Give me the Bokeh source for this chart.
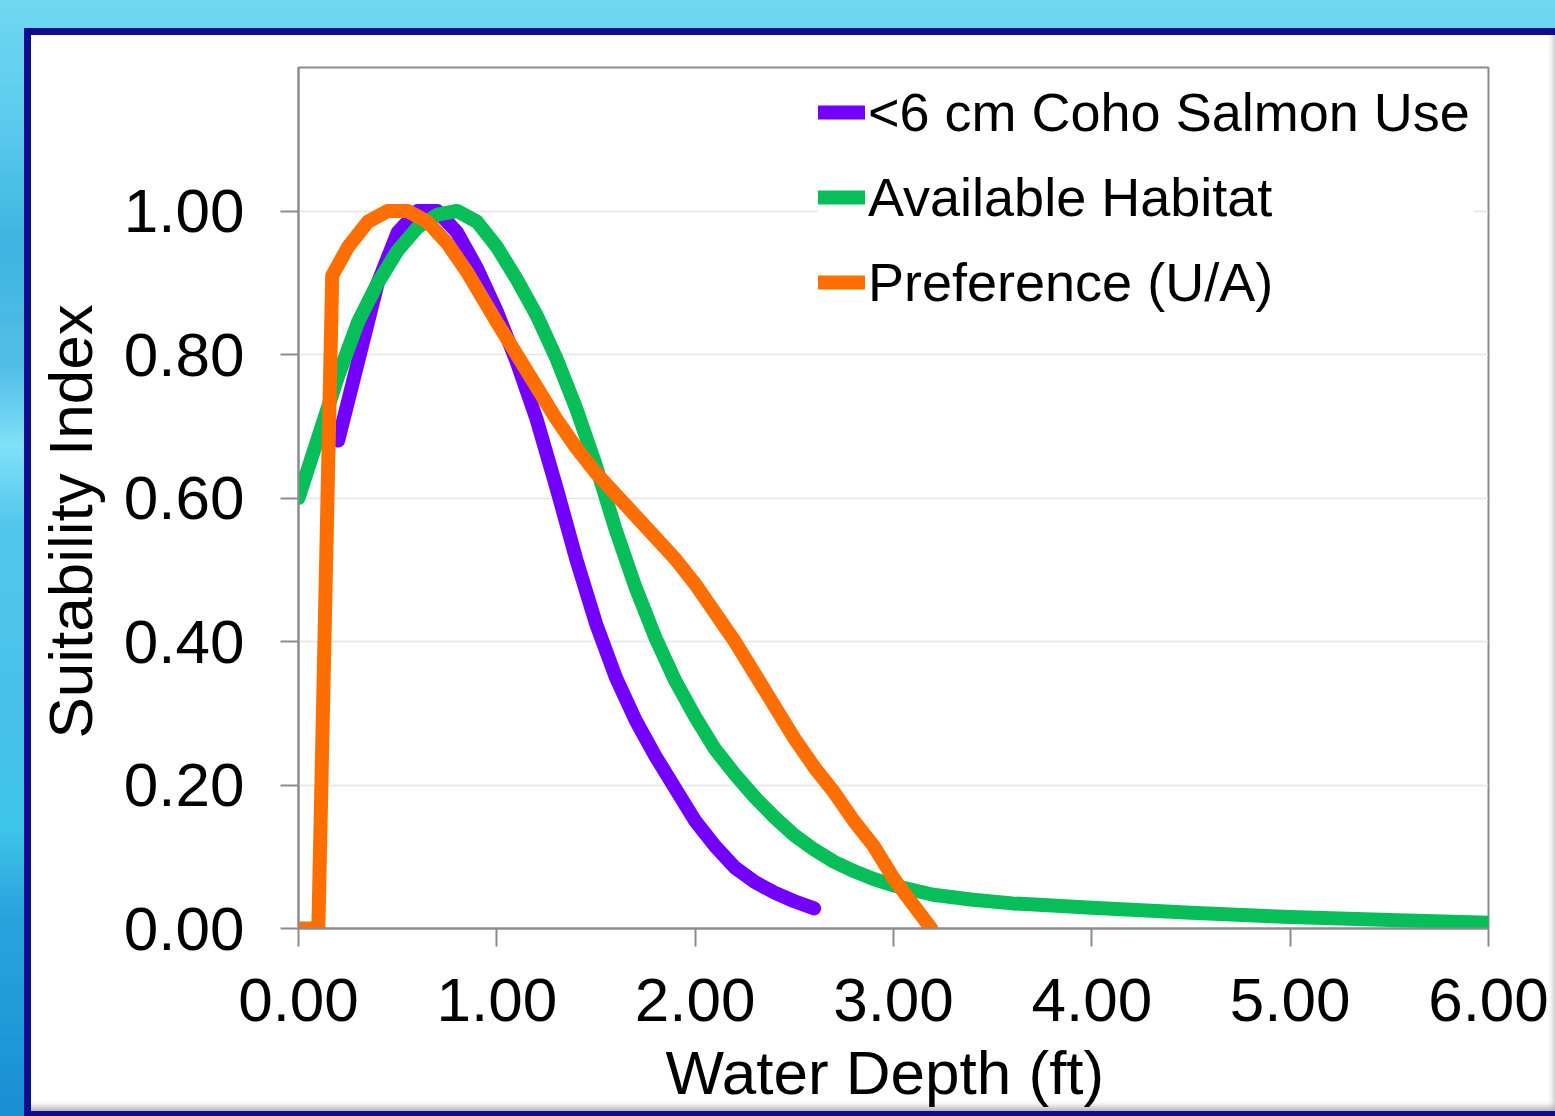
from bokeh.plotting import figure
from bokeh.layouts import column
from bokeh.models import FixedTicker, NumeralTickFormatter, Legend, LegendItem, Range1d
from bokeh.embed import file_html
from bokeh.resources import INLINE

# Water depth (ft) and suitability index for each curve
use_depth = [0.20, 0.30, 0.40, 0.50, 0.60, 0.70, 0.80, 0.90, 1.00, 1.10, 1.20, 1.30,
             1.40, 1.50, 1.60, 1.70, 1.80, 1.90, 2.00, 2.10, 2.20, 2.30, 2.40, 2.50, 2.60]
use_index = [0.68, 0.79, 0.90, 0.97, 1.00, 1.00, 0.97, 0.92, 0.86, 0.79, 0.71, 0.615,
             0.515, 0.425, 0.35, 0.29, 0.24, 0.195, 0.15, 0.115, 0.085, 0.065, 0.05, 0.038, 0.028]

avail_depth = [0.0, 0.1, 0.2, 0.3, 0.4, 0.5, 0.6, 0.7, 0.8, 0.9, 1.0, 1.1, 1.2, 1.3, 1.4,
               1.5, 1.6, 1.7, 1.8, 1.9, 2.0, 2.1, 2.2, 2.3, 2.4, 2.5, 2.6, 2.7, 2.8, 2.9,
               3.0, 3.2, 3.4, 3.6, 3.8, 4.0, 4.5, 5.0, 5.5, 6.0]
avail_index = [0.60, 0.685, 0.77, 0.845, 0.90, 0.945, 0.977, 0.995, 1.0, 0.985, 0.95, 0.905,
               0.855, 0.795, 0.725, 0.645, 0.555, 0.475, 0.405, 0.345, 0.295, 0.25, 0.215,
               0.183, 0.155, 0.13, 0.11, 0.093, 0.08, 0.069, 0.06, 0.047, 0.04, 0.035,
               0.032, 0.029, 0.022, 0.016, 0.012, 0.008]

pref_depth = [0.0, 0.10, 0.17, 0.25, 0.35, 0.45, 0.55, 0.65, 0.75, 0.85, 1.0, 1.1, 1.2,
              1.3, 1.4, 1.5, 1.6, 1.7, 1.8, 1.9, 2.0, 2.1, 2.2, 2.3, 2.4, 2.5, 2.6, 2.7,
              2.8, 2.9, 3.0, 3.1, 3.19]
pref_index = [0.0, 0.0, 0.91, 0.95, 0.985, 1.0, 1.0, 0.985, 0.955, 0.915, 0.845, 0.80,
              0.755, 0.71, 0.67, 0.635, 0.605, 0.575, 0.545, 0.515, 0.48, 0.44, 0.40,
              0.355, 0.31, 0.265, 0.225, 0.19, 0.15, 0.115, 0.07, 0.033, 0.0]

series_names = ["<6 cm Coho Salmon Use", "Available Habitat", "Preference (U/A)"]
series_colors = ["#7300ff", "#07be58", "#ff6e00"]

x_ticks = [0, 1, 2, 3, 4, 5, 6]
y_ticks = [0.0, 0.2, 0.4, 0.6, 0.8, 1.0]

FONT = "Liberation Sans"
AXIS_GRAY = "#8c8c8c"
FRAME_BLUE = "#0e0e94"
NBSP = "\u00a0"
THIN = "\u2009"

p = figure(width=1524, height=1076, output_backend="svg", toolbar_location=None,
           x_range=Range1d(0, 6), y_range=Range1d(0, 1.2),
           min_border_left=267, min_border_right=67, min_border_top=32, min_border_bottom=183,
           # trailing blanks nudge the centred titles slightly off the frame centre
           x_axis_label="Water Depth (ft)" + NBSP,
           y_axis_label="Suitability Index" + NBSP + NBSP + THIN,
           margin=(35, 0, 0, 31))

# white slide panel with a dark blue rim and a soft inner bevel
p.border_fill_alpha = 0
p.background_fill_color = "white"
p.outline_line_color = AXIS_GRAY
p.outline_line_width = 2
p.styles = {"background-color": "white",
            "box-shadow": f"inset -4px -7px 6px -3px rgba(0,0,0,0.30), 0 0 0 7px {FRAME_BLUE}"}

p.xgrid.visible = False
p.ygrid.grid_line_color = "#e4e4e4"
p.ygrid.grid_line_width = 1.5
p.ygrid.ticker = FixedTicker(ticks=y_ticks)

for ax in (p.xaxis[0], p.yaxis[0]):
    ax.axis_line_color = AXIS_GRAY
    ax.axis_line_width = 2
    ax.major_tick_line_color = AXIS_GRAY
    ax.major_tick_line_width = 2
    ax.major_tick_out = 18
    ax.major_tick_in = 0
    ax.minor_tick_line_color = None
    ax.major_label_text_font = FONT
    ax.major_label_text_font_size = "62px"
    ax.major_label_text_color = "black"
    ax.axis_label_text_font = FONT
    ax.axis_label_text_font_size = "62px"
    ax.axis_label_text_font_style = "normal"
    ax.axis_label_text_color = "black"
    ax.formatter = NumeralTickFormatter(format="0.00")

p.xaxis[0].ticker = FixedTicker(ticks=x_ticks)
p.yaxis[0].ticker = FixedTicker(ticks=y_ticks)
p.xaxis[0].major_label_standoff = 32
p.xaxis[0].axis_label_standoff = 14
p.yaxis[0].major_label_standoff = 36
p.yaxis[0].axis_label_standoff = 16

renderers = []
for xs, ys, color in ((use_depth, use_index, series_colors[0]),
                      (avail_depth, avail_index, series_colors[1]),
                      (pref_depth, pref_index, series_colors[2])):
    r = p.line(xs, ys, line_color=color, line_width=14,
               line_join="round", line_cap="round")
    renderers.append(r)

legend = Legend(items=[LegendItem(label=n, renderers=[r]) for n, r in zip(series_names, renderers)],
                location="top_right", margin=14, padding=20, spacing=23,
                glyph_width=47, glyph_height=50, label_height=50, label_width=606,
                label_standoff=3,
                label_text_font=FONT, label_text_font_size="54px", label_text_color="black",
                border_line_color=None, background_fill_color="white", background_fill_alpha=1.0)
p.add_layout(legend)

page = column(p, width=1555, height=1116, margin=0,
              styles={"background": "linear-gradient(to bottom, #70d7f1 0%, #5ccdee 10%, "
                                    "#3fb3e1 22%, #52bfe8 33%, #80e1f8 40%, #52c6ec 47%, "
                                    "#47c0ea 65%, #3ec6ec 74%, #2aa2dc 82%, #2099d8 92%, "
                                    "#1a8ed3 100%)",
                      "overflow": "hidden"})

open("out.html", "w").write(file_html(page, INLINE))
